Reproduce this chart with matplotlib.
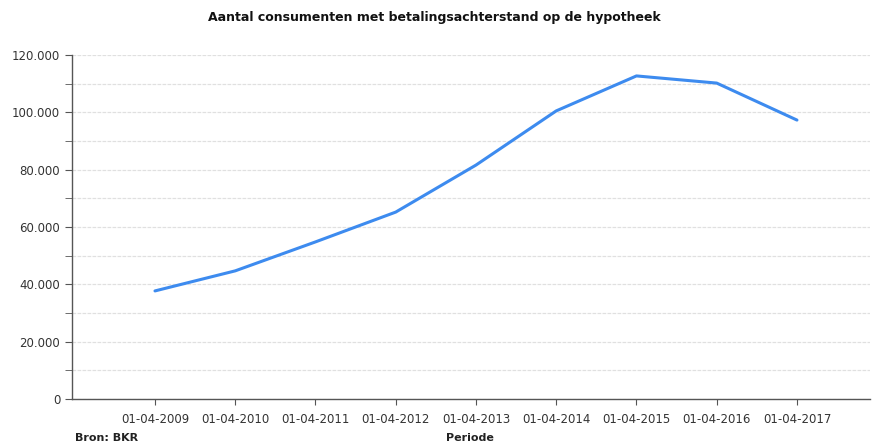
import numpy as np
import matplotlib.pyplot as plt
from matplotlib.ticker import MultipleLocator, FuncFormatter

# data
periods = ['01-04-2009', '01-04-2010', '01-04-2011', '01-04-2012', '01-04-2013',
           '01-04-2014', '01-04-2015', '01-04-2016', '01-04-2017']
consumers = [37700, 44700, 54800, 65200, 81600, 100500, 112700, 110200, 97300]

fig = plt.figure(figsize=(8.74, 4.46), dpi=100)
ax = fig.add_axes([0.0824, 0.1054, 0.913, 0.7713])

x = np.arange(1, len(periods) + 1)
ax.plot(x, consumers, color='#3d8bef', lw=2.2, solid_capstyle='round')

ax.set_xlim(-0.034, 9.91)
ax.set_ylim(0, 120000)
ax.set_xticks(x)
ax.set_xticklabels(periods)
ax.yaxis.set_major_locator(MultipleLocator(20000))
ax.yaxis.set_minor_locator(MultipleLocator(10000))
ax.yaxis.set_major_formatter(FuncFormatter(lambda v, p: '{:,.0f}'.format(v).replace(',', '.')))

ax.grid(axis='y', which='both', color='#e0e0e0', ls=(0, (3, 1)), lw=0.9)
ax.set_axisbelow(True)

for s in ['top', 'right']:
    ax.spines[s].set_visible(False)
for s in ['left', 'bottom']:
    ax.spines[s].set_color('#555555')
    ax.spines[s].set_linewidth(1.0)

ax.tick_params(axis='both', which='both', colors='#555555', labelcolor='#333333', labelsize=8.5)
ax.tick_params(axis='y', which='minor', length=5)
ax.tick_params(axis='y', which='major', length=5)
ax.tick_params(axis='x', length=4, pad=6)

fig.text(0.497, 0.96, 'Aantal consumenten met betalingsachterstand op de hypotheek',
         ha='center', va='center', fontsize=9, fontweight='bold', color='#111111')
fig.text(0.086, 0.018, 'Bron: BKR', ha='left', va='center', fontsize=8,
         fontweight='bold', color='#222222')
fig.text(0.538, 0.018, 'Periode', ha='center', va='center', fontsize=8,
         fontweight='bold', color='#222222')

fig.savefig('out.png', dpi=100)
